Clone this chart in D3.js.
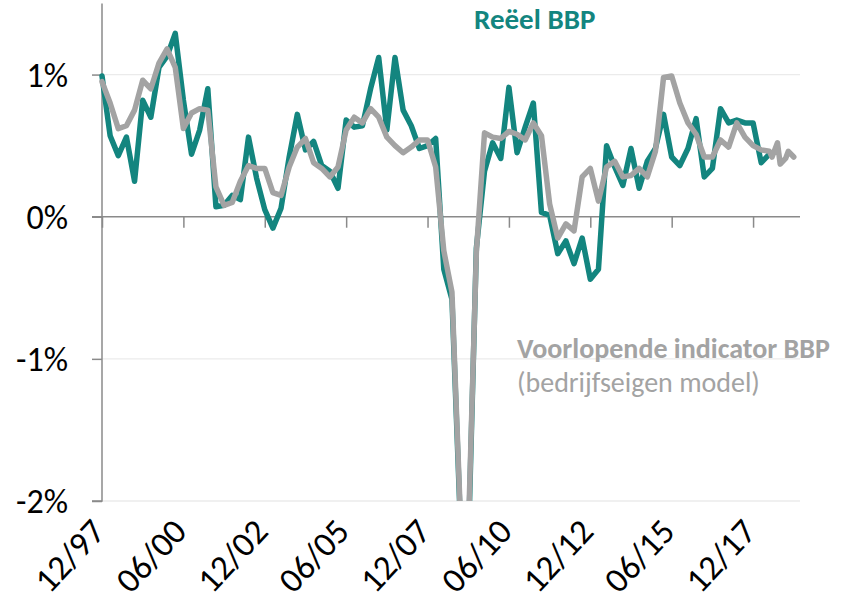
<!DOCTYPE html>
<html>
<head>
<meta charset="utf-8">
<script src="https://cdn.jsdelivr.net/npm/d3@7"></script>
<style>
  html, body { margin: 0; padding: 0; background: #ffffff; }
  svg { display: block; }
  text { font-family: Carlito, Calibri, Lato, "Open Sans", sans-serif; }
</style>
</head>
<body>
<svg id="chart" width="850" height="611"></svg>
<script>
// ---------- DATA ----------
const quarters = [
  "12/97",
  "03/98","06/98","09/98","12/98",
  "03/99","06/99","09/99","12/99",
  "03/00","06/00","09/00","12/00",
  "03/01","06/01","09/01","12/01",
  "03/02","06/02","09/02","12/02",
  "03/03","06/03","09/03","12/03",
  "03/04","06/04","09/04","12/04",
  "03/05","06/05","09/05","12/05",
  "03/06","06/06","09/06","12/06",
  "03/07","06/07","09/07","12/07",
  "03/08","06/08","09/08","12/08",
  "03/09","06/09","09/09","12/09",
  "03/10","06/10","09/10","12/10",
  "03/11","06/11","09/11","12/11",
  "03/12","06/12","09/12","12/12",
  "03/13","06/13","09/13","12/13",
  "03/14","06/14","09/14","12/14",
  "03/15","06/15","09/15","12/15",
  "03/16","06/16","09/16","12/16",
  "03/17","06/17","09/17","12/17",
  "03/18","06/18","09/18"
];

// Reëel BBP (q/q %, quarterly)
const realGDP = [
  0.99,
  0.57, 0.43, 0.56, 0.25,
  0.82, 0.70, 1.05, 1.13,
  1.29, 0.82, 0.44, 0.61,
  0.90, 0.07, 0.08, 0.15,
  0.12, 0.56, 0.27, 0.05,
  -0.08, 0.06, 0.42, 0.72,
  0.47, 0.53, 0.36, 0.32,
  0.20, 0.68, 0.63, 0.64,
  0.90, 1.12, 0.61, 1.12,
  0.75, 0.64, 0.48, 0.50,
  0.55, -0.37, -0.58, -2.10,
  -2.35, -0.22, 0.32, 0.52,
  0.41, 0.91, 0.45, 0.63,
  0.80, 0.03, 0.01, -0.26,
  -0.17, -0.33, -0.15, -0.44,
  -0.37, 0.50, 0.35, 0.22,
  0.48, 0.20, 0.39, 0.48,
  0.72, 0.42, 0.36, 0.48,
  0.69, 0.28, 0.34, 0.76,
  0.66, 0.68, 0.66, 0.66,
  0.38, 0.44, 0.46
];

// Voorlopende indicator BBP (quarterly up to 06/18)
const indicator = [
  0.95,
  0.80, 0.62, 0.64, 0.75,
  0.96, 0.90, 1.08, 1.18,
  1.05, 0.62, 0.73, 0.76,
  0.75, 0.21, 0.08, 0.10,
  0.25, 0.36, 0.34, 0.34,
  0.17, 0.15, 0.35, 0.49,
  0.55, 0.38, 0.34, 0.28,
  0.35, 0.61, 0.70, 0.66,
  0.76, 0.70, 0.56, 0.50,
  0.45, 0.49, 0.54, 0.54,
  0.35, -0.24, -0.53, -2.05,
  -2.25, -0.25, 0.59, 0.56,
  0.55, 0.60, 0.58, 0.54,
  0.66, 0.57, 0.09, -0.15,
  -0.05, -0.10, 0.28, 0.34,
  0.11, 0.35, 0.39, 0.28,
  0.29, 0.34, 0.28, 0.46,
  0.98, 0.99, 0.80, 0.66,
  0.58, 0.42, 0.42, 0.54,
  0.49, 0.66, 0.56, 0.50,
  0.47, 0.46
];
// Voorlopende indicator BBP, monthly tail
const indicatorTailDates = ["07/18","09/18","10/18","12/18","01/19","03/19"];
const indicatorTail = [0.42, 0.52, 0.37, 0.41, 0.46, 0.42];

const xTickLabels = ["12/97","06/00","12/02","06/05","12/07","06/10","12/12","06/15","12/17"];
const yTicks = [1, 0, -1, -2];
const yTickLabels = ["1%", "0%", "-1%", "-2%"];
const yGrid = [1, -1, -2];

const seriesNames = ["Reëel BBP", "Voorlopende indicator BBP", "(bedrijfseigen model)"];

// ---------- HELPERS ----------
function monthIndex(s) {
  const [mm, yy] = s.split("/").map(Number);
  const year = yy < 50 ? 2000 + yy : 1900 + yy;
  return (year - 1997) * 12 + (mm - 12);
}

const TEAL = "#13857f";
const GREY = "#a3a3a3";
const AXIS = "#8a8a8a";
const GRID = "#ebebeb";

const svg = d3.select("#chart");

const x = d3.scaleLinear().domain([0, 257.3]).range([102, 800]);
const y = d3.scaleLinear().domain([-2, 1.5]).range([501, 3.5]);

// clip
svg.append("defs").append("clipPath").attr("id", "plotclip")
  .append("rect")
  .attr("x", x(0) - 10).attr("y", y(1.5))
  .attr("width", x(257.3) - x(0) + 20).attr("height", y(-2) - y(1.5));

// gridlines
svg.append("g").selectAll("line").data(yGrid).join("line")
  .attr("x1", x(0)).attr("x2", x(257.3))
  .attr("y1", d => y(d)).attr("y2", d => y(d))
  .attr("stroke", GRID).attr("stroke-width", 1.3);

// y axis
const yAxis = d3.axisLeft(y).tickValues(yTicks).tickSize(10).tickFormat("");
const gy = svg.append("g").attr("transform", `translate(${x(0)},0)`).call(yAxis);
gy.select(".domain").attr("stroke", AXIS).attr("stroke-width", 1.5)
  .attr("d", `M-10,${y(-2)}H0V${y(1.5)}`);
gy.selectAll(".tick line").attr("stroke", AXIS).attr("stroke-width", 1.5);

svg.append("g").selectAll("text").data(yTicks).join("text")
  .attr("x", 68).attr("y", d => y(d))
  .attr("dy", "0.36em")
  .attr("text-anchor", "end")
  .attr("font-size", 34)
  .attr("fill", "#000")
  .text((d, i) => yTickLabels[i]);

// x axis at 0%
const xAxis = d3.axisBottom(x).tickValues(xTickLabels.map(monthIndex)).tickSize(11).tickFormat("");
const gx = svg.append("g").attr("transform", `translate(0,${y(0)})`).call(xAxis);
gx.select(".domain").attr("stroke", AXIS).attr("stroke-width", 1.5)
  .attr("d", `M${x(0) - 10},0H${x(257.3)}`);
gx.selectAll(".tick line").attr("stroke", AXIS).attr("stroke-width", 1.5);

svg.append("g").selectAll("text").data(xTickLabels).join("text")
  .attr("transform", d => `translate(${x(monthIndex(d)) + 5},${533}) rotate(-47)`)
  .attr("text-anchor", "end")
  .attr("font-size", 35)
  .attr("fill", "#000")
  .text(d => d);

// lines
const line = d3.line().x(d => x(d[0])).y(d => y(d[1])).curve(d3.curveLinear);
const realPts = quarters.map((q, i) => [monthIndex(q), realGDP[i]]);
const indPts = quarters.slice(0, indicator.length).map((q, i) => [monthIndex(q), indicator[i]])
  .concat(indicatorTailDates.map((q, i) => [monthIndex(q), indicatorTail[i]]));

const plot = svg.append("g").attr("clip-path", "url(#plotclip)");
plot.append("path").datum(realPts).attr("d", line)
  .attr("fill", "none").attr("stroke", TEAL).attr("stroke-width", 5.5)
  .attr("stroke-linejoin", "round").attr("stroke-linecap", "round");
plot.append("path").datum(indPts).attr("d", line)
  .attr("fill", "none").attr("stroke", GREY).attr("stroke-width", 5.5)
  .attr("stroke-linejoin", "round").attr("stroke-linecap", "round");

// legend labels
svg.append("text").attr("x", 474).attr("y", 29)
  .attr("font-size", 29).attr("font-weight", "bold").attr("fill", TEAL)
  .text(seriesNames[0]);
svg.append("text").attr("x", 517).attr("y", 358)
  .attr("font-size", 28).attr("font-weight", "bold").attr("fill", GREY)
  .text(seriesNames[1]);
svg.append("text").attr("x", 517).attr("y", 392)
  .attr("font-size", 28).attr("fill", GREY)
  .text(seriesNames[2]);
</script>
</body>
</html>
